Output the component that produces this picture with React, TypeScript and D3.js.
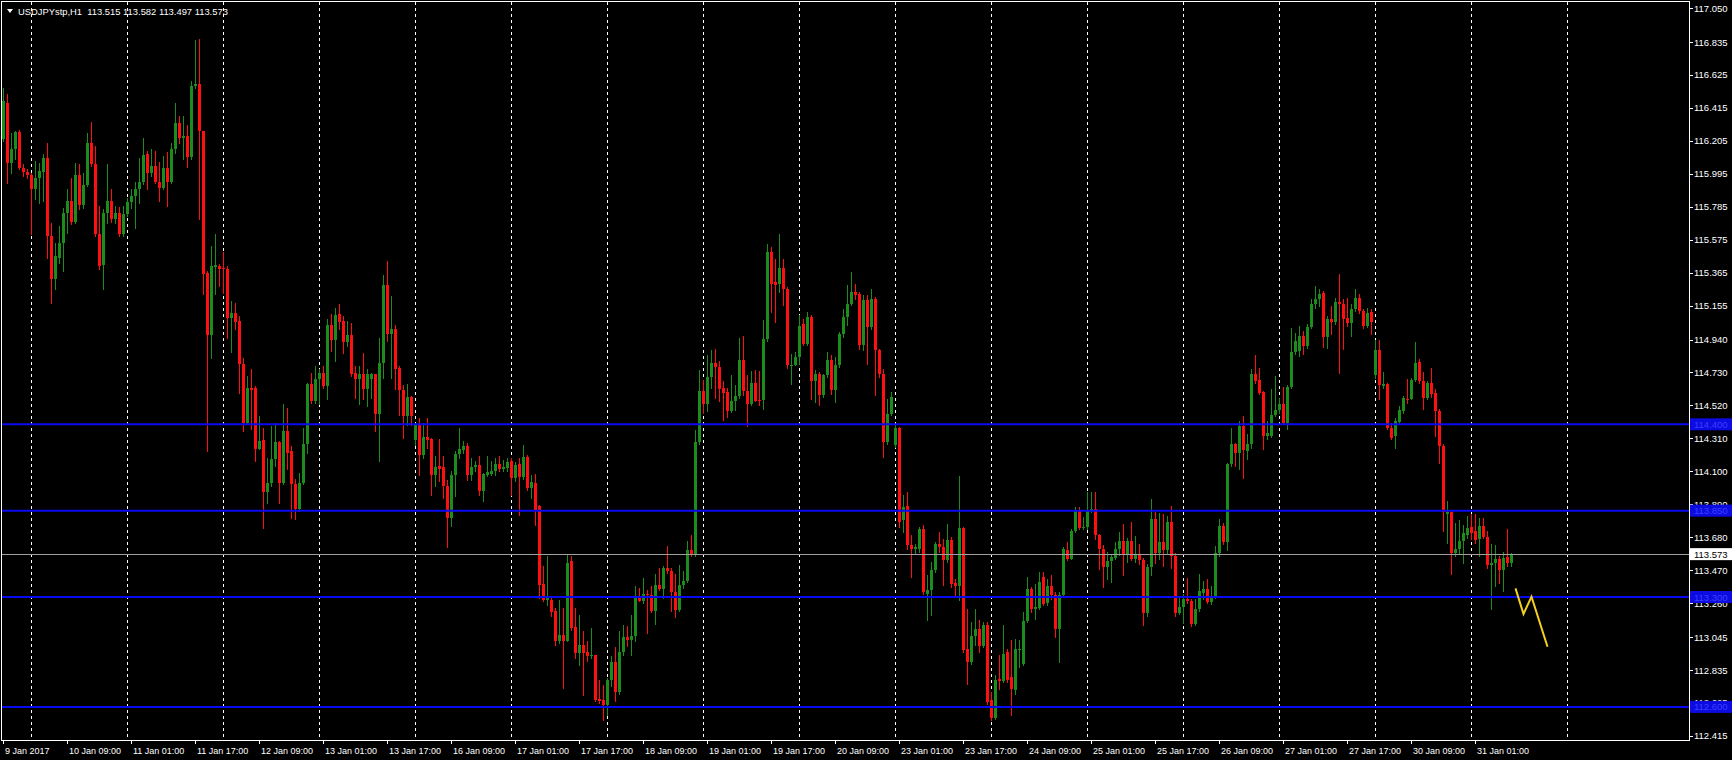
import React from "react";
import * as d3 from "d3";

// ---- DATA (USDJPYstp H1, bars from 9 Jan 2017 17:00) ----
// each row: [open, high, low, close]
const week1: number[][] = [
[116.215,116.544,116.205,116.459],[116.449,116.502,115.939,116.067],[116.067,116.258,116.003,116.152],[116.156,116.268,116.088,116.262],
[116.262,116.275,116.024,116.035],[116.035,116.056,115.982,116.007],[116.007,116.024,115.971,115.986],[115.990,116.003,115.610,115.897],
[115.901,116.078,115.833,115.971],[115.971,116.067,115.812,116.014],[116.007,116.120,115.823,116.099],[116.099,116.190,115.462,115.600],
[115.600,115.685,115.175,115.328],[115.328,115.557,115.260,115.472],[115.462,115.663,115.430,115.557],[115.557,115.780,115.377,115.748],
[115.748,115.897,115.621,115.823],[115.823,115.971,115.674,115.689],[115.689,116.062,115.685,115.986],[115.986,116.056,115.769,115.795],
[115.795,116.003,115.780,115.922],[115.922,116.258,115.918,116.190],[116.190,116.326,116.045,116.056],[116.056,116.173,115.600,115.610],
[115.610,115.791,115.387,115.408],[115.413,115.769,115.260,115.748],[115.748,116.056,115.685,115.823],[115.823,115.897,115.690,115.706],
[115.706,115.791,115.685,115.748],[115.748,115.786,115.600,115.610],[115.610,115.791,115.600,115.738],[115.738,115.844,115.727,115.816],
[115.816,115.897,115.780,115.854],[115.854,115.944,115.653,115.901],[115.901,116.099,115.812,115.944],[115.944,116.226,115.929,116.114],
[116.120,116.141,115.897,115.999],[115.999,116.152,115.982,116.045],[116.045,116.141,115.939,115.944],[115.944,116.071,115.823,115.907],
[115.907,116.110,115.897,116.035],[116.035,116.135,115.791,115.944],[115.944,116.194,115.935,116.152],[116.152,116.449,116.131,116.321],
[116.321,116.364,116.194,116.226],[116.226,116.364,116.088,116.237],[116.237,116.304,116.041,116.105],[116.105,116.587,116.088,116.555],
[116.555,116.848,116.544,116.566],[116.566,116.852,115.706,116.268],[116.268,116.268,115.228,115.355],[115.362,115.377,114.230,114.967],
[114.967,115.536,114.825,115.408],[115.404,115.610,115.228,115.413],[115.408,115.419,115.281,115.392],[115.398,115.498,115.239,115.387],
[115.392,115.408,114.952,115.079],[115.079,115.186,114.861,115.111],[115.111,115.175,115.005,115.052],[115.058,115.090,114.602,114.782],
[114.782,114.825,114.358,114.411],[114.406,114.708,114.400,114.634],[114.634,114.750,114.368,114.619],[114.634,114.644,114.166,114.245],
[114.245,114.453,114.241,114.294],[114.300,114.379,113.742,113.969],[113.969,114.188,113.901,114.028],[114.028,114.389,114.007,114.181],
[114.181,114.411,114.134,114.287],[114.287,114.294,113.901,114.028],[114.028,114.527,114.018,114.358],[114.358,114.506,114.113,114.220],
[114.230,114.262,113.805,114.018],[114.018,114.049,113.795,113.858],[113.858,114.092,113.848,114.028],[114.028,114.379,114.018,114.273],
[114.273,114.665,114.220,114.655],[114.655,114.729,114.538,114.549],[114.549,114.772,114.538,114.687],[114.687,114.750,114.527,114.725],
[114.725,114.772,114.634,114.644],[114.644,115.073,114.559,115.031],[115.031,115.101,114.867,114.937],[114.937,115.143,114.803,115.094],
[115.101,115.164,115.005,115.052],[115.058,115.090,114.857,114.924],[114.924,115.058,114.899,114.967],[114.967,115.048,114.708,114.718],
[114.725,114.772,114.570,114.687],[114.687,114.772,114.527,114.718],[114.718,114.857,114.559,114.623],[114.623,114.750,114.517,114.718],
[114.690,114.725,114.570,114.718],[114.718,114.718,114.358,114.464],[114.464,114.952,114.166,114.793],[114.793,115.353,114.695,115.290],
[115.290,115.438,114.929,114.975],[114.975,115.215,114.695,115.007],[115.007,115.035,114.627,114.755],[114.759,114.769,114.462,114.617],
[114.617,114.653,114.313,114.455],[114.455,114.657,114.398,114.572],[114.572,114.578,114.398,114.455],
];
const week2: number[][] = [
[114.302,114.408,114.270,114.398],[114.398,114.440,114.079,114.207],[114.207,114.408,114.186,114.317],[114.317,114.440,114.249,114.302],
[114.307,114.313,113.952,114.079],[114.075,114.196,114.005,114.126],[114.132,114.309,114.037,114.118],[114.126,114.196,113.931,114.005],
[114.005,114.048,113.617,113.803],[113.803,114.101,113.750,114.075],[114.075,114.228,113.941,114.211],[114.211,114.377,114.186,114.245],
[114.239,114.292,114.217,114.260],[114.260,114.281,114.048,114.079],[114.079,114.186,114.048,114.126],[114.126,114.164,114.101,114.143],
[114.139,114.196,113.952,113.977],[113.977,114.090,113.910,114.084],[114.079,114.196,114.069,114.094],[114.084,114.164,114.079,114.101],
[114.101,114.186,114.079,114.147],[114.147,114.196,114.101,114.118],[114.118,114.175,114.101,114.126],[114.122,114.186,114.101,114.160],
[114.164,114.186,113.952,114.058],[114.058,114.160,114.037,114.143],[114.147,114.186,113.825,114.062],[114.062,114.266,114.054,114.190],
[114.190,114.207,113.984,113.994],[113.994,114.079,113.931,114.033],[114.026,114.084,113.757,113.856],[113.878,113.888,113.294,113.375],
[113.383,113.496,113.273,113.283],[113.283,113.559,113.251,113.294],[113.283,113.298,113.177,113.205],[113.209,113.230,112.997,113.018],
[113.018,113.283,113.007,113.056],[113.056,113.230,112.720,113.022],[113.022,113.570,113.018,113.517],[113.527,113.559,113.092,113.103],
[113.107,113.230,112.912,112.944],[112.944,113.188,112.869,112.992],[112.992,113.082,112.678,112.944],[112.950,113.018,112.890,112.922],
[112.922,113.103,112.912,112.933],[112.929,112.933,112.636,112.646],[112.651,112.774,112.625,112.636],[112.646,112.742,112.519,112.610],
[112.610,112.784,112.551,112.774],[112.774,112.922,112.731,112.884],[112.884,112.980,112.640,112.695],[112.695,113.086,112.682,112.950],
[112.950,113.124,112.933,113.043],[113.043,113.113,112.986,113.028],[113.028,113.188,112.933,113.050],[113.050,113.368,113.018,113.304],
[113.304,113.358,113.273,113.277],[113.277,113.421,113.262,113.319],[113.319,113.347,113.071,113.315],[113.315,113.368,113.205,113.209],
[113.209,113.447,113.128,113.375],[113.375,113.485,113.347,113.353],[113.353,113.496,113.294,113.485],[113.485,113.623,113.453,113.464],
[113.468,113.485,113.209,113.332],[113.332,113.447,113.171,113.220],[113.220,113.506,113.209,113.375],[113.375,113.464,113.358,113.400],
[113.400,113.659,113.396,113.602],[113.602,113.693,113.559,113.574],[113.574,114.366,113.559,114.287],[114.287,114.748,114.275,114.610],
[114.610,114.685,114.472,114.530],[114.530,114.844,114.483,114.699],[114.699,114.876,114.631,114.791],[114.791,114.882,114.568,114.763],
[114.763,114.801,114.546,114.627],[114.631,114.674,114.430,114.600],[114.606,114.631,114.445,114.483],[114.483,114.716,114.479,114.551],
[114.551,114.653,114.493,114.578],[114.578,114.950,114.568,114.812],[114.812,114.961,114.589,114.614],[114.614,114.716,114.387,114.530],
[114.530,114.738,114.525,114.663],[114.663,114.748,114.546,114.551],[114.557,114.738,114.525,114.546],[114.553,115.062,114.500,114.946],
[114.946,115.550,114.930,115.500],[115.500,115.530,115.115,115.296],[115.307,115.450,115.052,115.290],[115.296,115.610,115.243,115.396],
[115.396,115.450,115.158,115.264],[115.264,115.275,114.759,114.776],[114.772,114.850,114.659,114.780],[114.776,114.861,114.776,114.829],
[114.829,115.094,114.786,115.026],[115.041,115.073,114.903,114.914],[114.914,115.115,114.903,115.084],[115.084,115.094,114.563,114.674],
[114.674,114.744,114.542,114.723],[114.723,114.733,114.521,114.585],[114.585,114.723,114.574,114.712],[114.712,114.861,114.701,114.808],
[114.808,114.839,114.595,114.617],[114.617,114.829,114.542,114.776],[114.776,114.988,114.765,114.977],[114.977,115.137,114.956,115.084],
[115.084,115.285,115.031,115.169],[115.169,115.370,115.158,115.243],[115.243,115.296,115.200,115.222],[115.232,115.243,114.882,114.903],
[114.903,115.222,114.871,115.190],[115.190,115.222,114.786,115.020],[115.020,115.264,115.009,115.200],[115.200,115.210,114.585,114.871],
[114.871,114.882,114.701,114.723],[114.723,114.755,114.192,114.287],[114.287,114.563,114.277,114.468],[114.468,114.606,114.457,114.574],
];
const week3: number[][] = [
[114.266,114.394,114.256,114.377],[114.377,114.383,113.746,113.778],[113.789,113.948,113.714,113.873],[113.880,113.969,113.608,113.629],
[113.634,113.693,113.428,113.608],[113.604,113.640,113.576,113.619],[113.604,113.746,113.587,113.735],[113.735,113.757,113.321,113.332],
[113.321,113.438,113.152,113.343],[113.343,113.523,113.183,113.470],[113.470,113.651,113.459,113.640],[113.640,113.714,113.587,113.619],
[113.619,113.672,113.375,113.534],[113.534,113.767,113.523,113.661],[113.661,113.682,113.364,113.385],[113.392,113.417,113.311,113.370],
[113.370,114.071,113.279,113.740],[113.740,113.746,112.950,112.960],[112.967,113.226,112.748,112.886],[112.886,113.141,112.876,113.052],
[113.052,113.226,112.992,113.099],[113.099,113.152,112.950,112.988],[112.988,113.141,112.982,113.120],[113.124,113.141,112.621,112.631],
[112.642,112.695,112.515,112.530],[112.530,112.801,112.521,112.769],[112.776,112.929,112.716,112.763],[112.763,113.120,112.759,112.939],
[112.950,112.971,112.759,112.769],[112.791,113.024,112.547,112.716],[112.706,113.035,112.685,112.971],[112.960,113.024,112.854,112.971],
[112.876,113.205,112.865,113.145],[113.145,113.428,113.141,113.353],[113.353,113.364,113.205,113.226],[113.226,113.385,113.162,113.237],
[113.230,113.459,113.226,113.396],[113.428,113.459,113.247,113.258],[113.264,113.417,113.247,113.370],[113.370,113.438,113.290,113.311],
[113.315,113.332,113.045,113.099],[113.099,113.332,112.886,113.311],[113.311,113.619,113.300,113.608],[113.598,113.651,113.534,113.544],
[113.544,113.735,113.540,113.718],[113.718,113.873,113.714,113.846],[113.852,113.873,113.735,113.740],[113.740,113.810,113.735,113.746],
[113.746,113.969,113.735,113.846],[113.846,113.971,113.842,113.863],[113.863,113.969,113.672,113.693],[113.693,113.704,113.481,113.604],
[113.608,113.629,113.364,113.491],[113.491,113.587,113.417,113.527],[113.527,113.576,113.396,113.555],[113.549,113.651,113.544,113.604],
[113.604,113.714,113.566,113.655],[113.655,113.767,113.438,113.566],[113.566,113.676,113.523,113.655],[113.655,113.778,113.534,113.544],
[113.540,113.689,113.523,113.566],[113.566,113.640,113.513,113.534],[113.534,113.551,113.120,113.200],[113.200,113.510,113.180,113.490],
[113.490,113.922,113.440,113.795],[113.795,113.842,113.519,113.583],[113.583,113.837,113.540,113.650],[113.650,113.830,113.500,113.600],
[113.600,113.816,113.580,113.778],[113.778,113.880,113.487,113.564],[113.564,113.583,113.179,113.200],[113.200,113.307,113.190,113.239],
[113.239,113.317,113.137,113.290],[113.290,113.423,113.264,113.275],[113.275,113.285,113.115,113.126],[113.126,113.285,113.120,113.222],
[113.222,113.445,113.211,113.338],[113.328,113.402,113.285,113.349],[113.349,113.413,113.264,113.268],[113.268,113.370,113.253,113.307],
[113.307,113.625,113.296,113.578],[113.578,113.795,113.564,113.752],[113.752,113.774,113.636,113.650],[113.650,114.156,113.598,114.145],
[114.145,114.375,114.135,114.273],[114.273,114.283,114.135,114.220],[114.220,114.421,114.113,114.389],[114.389,114.453,114.060,114.237],
[114.230,114.336,114.177,114.273],[114.273,114.755,114.251,114.718],[114.718,114.839,114.665,114.676],[114.682,114.761,114.591,114.602],
[114.606,114.612,114.245,114.326],[114.326,114.421,114.304,114.347],[114.326,114.623,114.321,114.457],[114.457,114.708,114.453,114.491],
[114.491,114.570,114.474,114.527],[114.527,114.640,114.400,114.406],[114.406,114.648,114.372,114.640],[114.640,115.016,114.634,114.861],
[114.861,114.984,114.846,114.931],[114.867,115.026,114.835,114.963],[114.963,114.994,114.846,114.899],[114.899,115.037,114.888,115.022],
[115.022,115.196,115.016,115.164],[115.164,115.281,115.143,115.196],[115.196,115.260,115.154,115.228],[115.239,115.249,114.895,114.958],
[114.958,115.090,114.888,115.069],[115.069,115.154,114.973,115.052],[115.052,115.207,115.037,115.179],[115.179,115.355,114.729,115.164],
[115.164,115.196,114.878,115.069],[115.079,115.207,115.026,115.043],[115.043,115.164,114.963,115.137],[115.137,115.260,115.122,115.207],
[115.207,115.228,115.111,115.122],[115.122,115.132,115.016,115.026],[115.026,115.143,115.022,115.111],[115.116,115.132,114.973,115.052],
];
const week4: number[][] = [
[114.712,114.937,114.697,114.873],[114.873,114.937,114.559,114.648],[114.644,114.733,114.634,114.655],[114.655,114.665,114.368,114.379],
[114.379,114.411,114.309,114.315],[114.326,114.442,114.251,114.421],[114.415,114.517,114.400,114.491],[114.485,114.580,114.474,114.570],
[114.563,114.687,114.538,114.555],[114.563,114.697,114.559,114.682],[114.682,114.924,114.676,114.793],[114.797,114.814,114.665,114.676],
[114.676,114.733,114.496,114.570],[114.570,114.676,114.559,114.665],[114.665,114.761,114.576,114.591],[114.597,114.623,114.326,114.485],
[114.485,114.496,114.156,114.262],[114.262,114.273,113.721,113.842],[113.827,113.912,113.646,113.842],[113.842,113.848,113.445,113.583],
[113.583,113.774,113.564,113.604],[113.604,113.791,113.583,113.657],[113.657,113.757,113.519,113.710],[113.693,113.816,113.678,113.742],
[113.748,113.827,113.667,113.710],[113.721,113.827,113.646,113.663],[113.667,113.806,113.564,113.752],[113.752,113.806,113.678,113.685],
[113.685,113.721,113.487,113.502],[113.502,113.636,113.226,113.519],[113.515,113.629,113.370,113.544],[113.544,113.564,113.392,113.472],
[113.472,113.587,113.338,113.551],[113.556,113.731,113.498,113.515],[113.515,113.582,113.497,113.573],
];

const priceLabels = ["117.050","116.835","116.625","116.415","116.205","115.995","115.785","115.575","115.365","115.155","114.940","114.730","114.520","114.310","114.100","113.890","113.680","113.470","113.260","113.045","112.835","112.625","112.415"];
const timeLabels = ["9 Jan 2017","10 Jan 09:00","11 Jan 01:00","11 Jan 17:00","12 Jan 09:00","13 Jan 01:00","13 Jan 17:00","16 Jan 09:00","17 Jan 01:00","17 Jan 17:00","18 Jan 09:00","19 Jan 01:00","19 Jan 17:00","20 Jan 09:00","23 Jan 01:00","23 Jan 17:00","24 Jan 09:00","25 Jan 01:00","25 Jan 17:00","26 Jan 09:00","27 Jan 01:00","27 Jan 17:00","30 Jan 09:00","31 Jan 01:00"];
const levelPrices = [114.4, 113.85, 113.3, 112.6];
const levelLabels = ["114.400", "113.850", "113.300", "112.600"];
const bidPrice = 113.573;
const headerText = "USDJPYstp,H1  113.515 113.582 113.497 113.573";
const forecastBars = [378, 380, 382, 386];
const forecastPrices = [113.355, 113.192, 113.302, 112.983];

const BULL = "#1c8c1c";
const BEAR = "#ff1010";
const FONT = "Tahoma, 'Liberation Sans', Arial, sans-serif";

export default function App() {
  const candles = [...week1, ...week2, ...week3, ...week4];
  const plotRight = 1689;
  const plotBottom = 740;
  const x = d3.scaleLinear().domain([0, 100]).range([3, 403]);
  const y = d3.scaleLinear().domain([114.4, 113.3]).range([424.3, 597]);
  const gridBars = d3.range(7, 400, 24);
  const lineGen = d3
    .line<[number, number]>()
    .x((d) => x(d[0]) + 0.5)
    .y((d) => y(d[1]));
  const forecast: [number, number][] = forecastBars.map((b, i) => [b, forecastPrices[i]]);

  return (
    <svg
      width={1732}
      height={760}
      style={{ position: "fixed", left: 0, top: 0, background: "#000", display: "block" }}
      fontFamily={FONT}
    >
      <rect x={0} y={0} width={1732} height={760} fill="#000" />
      {/* vertical dashed grid */}
      {gridBars.map((b) => (
        <line
          key={"g" + b}
          x1={x(b) + 0.5}
          x2={x(b) + 0.5}
          y1={2}
          y2={plotBottom}
          stroke="#ffffff"
          strokeWidth={1}
          strokeDasharray="3,3"
          shapeRendering="crispEdges"
        />
      ))}
      {/* candles */}
      <g shapeRendering="crispEdges">
        {candles.map((c, i) => {
          const [o, h, l, cl] = c;
          const up = cl >= o;
          const col = up ? BULL : BEAR;
          const cx = x(i);
          const top = Math.round(y(Math.max(o, cl)));
          const bot = Math.round(y(Math.min(o, cl)));
          return (
            <g key={i}>
              <line x1={cx + 0.5} x2={cx + 0.5} y1={Math.round(y(h))} y2={Math.round(y(l)) + 1} stroke={col} strokeWidth={1} />
              <rect x={cx - 1} y={top} width={3} height={Math.max(1, bot - top)} fill={col} />
            </g>
          );
        })}
      </g>
      {/* horizontal level lines */}
      {levelPrices.map((p) => (
        <line key={"l" + p} x1={2} x2={plotRight} y1={y(p)} y2={y(p)} stroke="#0a0af0" strokeWidth={2} />
      ))}
      {/* bid line */}
      <line x1={2} x2={plotRight} y1={Math.round(y(bidPrice)) + 0.5} y2={Math.round(y(bidPrice)) + 0.5} stroke="#a0a0a0" strokeWidth={1} />
      {/* forecast zigzag */}
      <path d={lineGen(forecast) || ""} fill="none" stroke="#f5d020" strokeWidth={2} />
      {/* frame */}
      <rect x={1.5} y={1.5} width={plotRight - 1.5} height={plotBottom - 1.5} fill="none" stroke="#ffffff" strokeWidth={1} shapeRendering="crispEdges" />
      {/* price axis */}
      {priceLabels.map((t) => {
        const yy = y(+t);
        return (
          <g key={"p" + t}>
            <line x1={plotRight} x2={plotRight + 4} y1={Math.round(yy) + 0.5} y2={Math.round(yy) + 0.5} stroke="#fff" />
            <text x={1694} y={yy + 3.5} fill="#fff" fontSize={9.5}>
              {t}
            </text>
          </g>
        );
      })}
      {levelPrices.map((p, i) => (
        <g key={"lb" + p}>
          <rect x={1690} y={y(p) - 6} width={42} height={12} fill="#0c0ce0" />
          <text x={1694} y={y(p) + 3.5} fill="#3c3cff" fontSize={9.5}>
            {levelLabels[i]}
          </text>
        </g>
      ))}
      <rect x={1690} y={y(bidPrice) - 6} width={42} height={12} fill="#ffffff" />
      <text x={1694} y={y(bidPrice) + 3.5} fill="#000" fontSize={9.5}>
        {bidPrice.toFixed(3)}
      </text>
      {/* time axis */}
      {timeLabels.map((t, k) => {
        const b = k * 16;
        const xx = x(b);
        return (
          <g key={"t" + k}>
            <line x1={xx + 0.5} x2={xx + 0.5} y1={plotBottom} y2={plotBottom + 4} stroke="#fff" />
            <text x={xx + 2} y={754} fill="#fff" fontSize={9}>
              {t}
            </text>
          </g>
        );
      })}
      {/* header */}
      <path d="M7,9 L13,9 L10,13 Z" fill="#fff" />
      <text x={18} y={14.5} fill="#fff" fontSize={9.4} style={{ whiteSpace: "pre" }}>
        {headerText}
      </text>
    </svg>
  );
}
